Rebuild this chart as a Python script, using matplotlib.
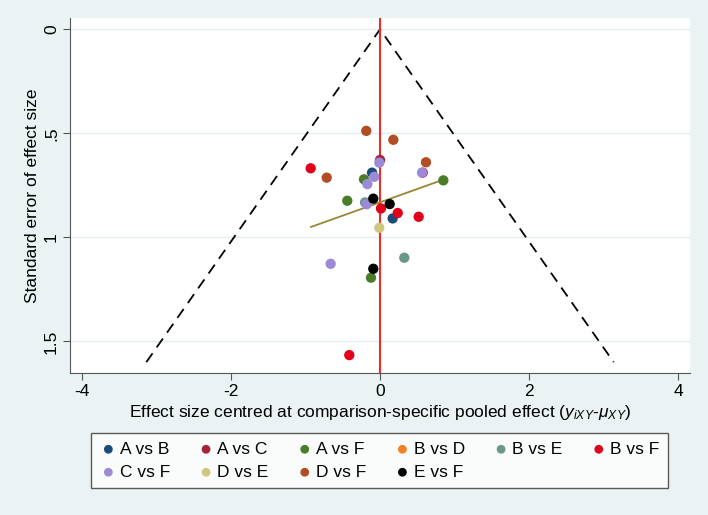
import matplotlib
matplotlib.use("Agg")
import matplotlib.pyplot as plt
import numpy as np

plt.rcParams['font.family'] = ['Liberation Sans', 'DejaVu Sans']
plt.rcParams['mathtext.fontset'] = 'custom'
plt.rcParams['mathtext.rm'] = 'Liberation Sans'
plt.rcParams['mathtext.it'] = 'Liberation Sans:italic'

# comparisons, colours and (centred effect, standard error) of each study
comparisons = ["A vs B", "A vs C", "A vs F", "B vs D", "B vs E",
               "B vs F", "C vs F", "D vs E", "D vs F", "E vs F"]
colors = ["#1B4B7A", "#A6213A", "#4A7D2A", "#F58220", "#6B978A",
          "#E2001A", "#9C8AD8", "#CFC67F", "#B14D22", "#000000"]

eff = {
    "A vs B": [-0.107, 0.170],
    "A vs C": [0.0],
    "A vs F": [-0.215, -0.439, 0.850, -0.121],
    "B vs D": [],
    "B vs E": [-0.201, 0.326],
    "B vs F": [-0.930, 0.013, 0.238, 0.519, 0.573, -0.412],
    "C vs F": [-0.009, -0.077, -0.170, 0.564, -0.179, -0.662],
    "D vs E": [-0.009],
    "D vs F": [-0.184, 0.179, 0.617, -0.715],
    "E vs F": [-0.090, 0.130, -0.090],
}
se = {
    "A vs B": [0.689, 0.909],
    "A vs C": [0.628],
    "A vs F": [0.721, 0.824, 0.726, 1.194],
    "B vs D": [],
    "B vs E": [0.832, 1.098],
    "B vs F": [0.668, 0.861, 0.883, 0.901, 0.689, 1.566],
    "C vs F": [0.641, 0.709, 0.744, 0.689, 0.841, 1.127],
    "D vs E": [0.954],
    "D vs F": [0.488, 0.531, 0.639, 0.713],
    "E vs F": [0.814, 0.840, 1.151],
}

# fitted line endpoints (x, se)
fit_x = [-0.926, 0.832]
fit_se = [0.950, 0.725]
se_max = 1.6

fs = 12.5
bg = "#EAF2F3"
fig = plt.figure(figsize=(7.08, 5.15), dpi=100, facecolor=bg)
ax = fig.add_axes([70/708, 1-373/515, 620/708, (373-18.3)/515])
ax.set_facecolor("white")

ax.plot([-1.96*se_max, 0, 1.96*se_max], [se_max, 0, se_max], color="black",
        lw=1.3, dashes=(6, 4), zorder=2)
ax.axvline(0, color="#EE2C2C", lw=1.5, zorder=2)
ax.plot(fit_x, fit_se, color="#9C8531", lw=1.3, zorder=3)

handles = []
for c, col in zip(comparisons, colors):
    h = ax.scatter(eff[c], se[c], s=55, color=col, edgecolors="none", zorder=4, label=c)
    handles.append(h)

ax.set_xlim(-4.16, 4.16)
ax.set_ylim(1.652, -0.053)
ax.set_xticks([-4, -2, 0, 2, 4])
ax.set_xticklabels(["-4", "-2", "0", "2", "4"])
ax.set_yticks([0, 0.5, 1, 1.5])
ax.set_yticklabels(["0", ".5", "1", "1.5"], rotation=90, va="center")
ax.grid(axis="y", color="#E3EDEF", lw=1)
ax.set_axisbelow(True)
for s in ["top", "right"]:
    ax.spines[s].set_visible(False)
for s in ["left", "bottom"]:
    ax.spines[s].set_color("#555555")
ax.tick_params(labelsize=fs, length=5, color="#555555")
ax.tick_params(axis="x", pad=3)
ax.tick_params(axis="y", pad=3)
ax.set_ylabel("Standard error of effect size", fontsize=fs, labelpad=3)
ax.set_xlabel(r"Effect size centred at comparison-specific pooled effect ($y_{iXY}$-$\mu_{XY}$)",
              fontsize=fs, labelpad=3)

# legend is filled column-wise, reorder to get row-wise layout
order = [0, 6, 1, 7, 2, 8, 3, 9, 4, 5]
leg = fig.legend([handles[i] for i in order], [comparisons[i] for i in order],
                 loc="upper left", bbox_to_anchor=(91/708, 1-433/515, 577/708, 0),
                 mode="expand", ncol=6, fontsize=fs, frameon=True, fancybox=False,
                 edgecolor="#333333", handletextpad=0.15, handlelength=1.0,
                 borderaxespad=0, borderpad=0.5, labelspacing=0.45, markerscale=0.85)
leg.get_frame().set_linewidth(1.0)

fig.savefig("out.png", dpi=100, facecolor=bg)
